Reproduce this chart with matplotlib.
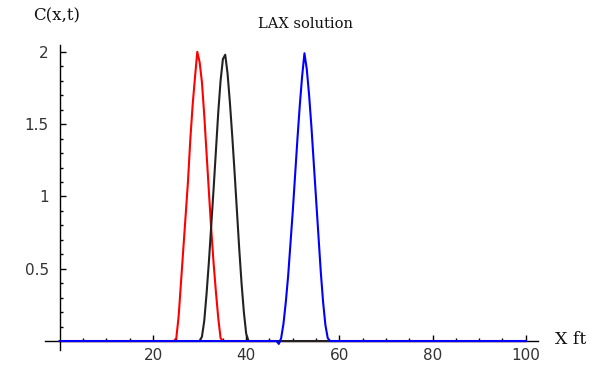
import numpy as np
import matplotlib
matplotlib.use("Agg")
import matplotlib.pyplot as plt
from matplotlib.ticker import FixedLocator

# grid spacing of the numerical solution (ft)
dx = 0.5
x_start, x_end = 0.0, 100.0

# pulse 1 (red)
red_x0 = 25.0
red_vals = [0.02, 0.17, 0.40, 0.62, 0.85, 1.10, 1.39, 1.63, 1.82, 2.00,
            1.93, 1.79, 1.56, 1.29, 1.03, 0.77, 0.54, 0.34, 0.16, 0.02]

# pulse 2 (black)
black_x0 = 30.5
black_vals = [0.03, 0.14, 0.33, 0.55, 0.80, 1.05, 1.32, 1.58, 1.80, 1.95,
              1.98, 1.85, 1.65, 1.42, 1.17, 0.90, 0.64, 0.40, 0.20, 0.05]

# pulse 3 (blue)
blue_x0 = 47.0
blue_vals = [-0.02, 0.02, 0.12, 0.27, 0.45, 0.67, 0.90, 1.15, 1.40, 1.63, 1.83,
             1.99, 1.88, 1.70, 1.48, 1.23, 0.98, 0.72, 0.48, 0.27, 0.11, 0.02]

x_major = [20, 40, 60, 80, 100]
x_labels = ["20", "40", "60", "80", "100"]
y_major = [0.5, 1.0, 1.5, 2.0]
y_labels = ["0.5", "1", "1.5", "2"]

x = np.arange(x_start, x_end + dx / 2, dx)

def build(x0, vals):
    c = np.zeros_like(x)
    i0 = int(round((x0 - x_start) / dx))
    c[i0:i0 + len(vals)] = vals
    return c

c_red = build(red_x0, red_vals)
c_black = build(black_x0, black_vals)
c_blue = build(blue_x0, blue_vals)

fig = plt.figure(figsize=(6.10, 3.77), dpi=100)
W, H = 610, 377
xl, xr = -3.2, 102.6
yb, yt = -0.06, 2.05
px_left, px_right = 44.9, 537.9
px_top, px_bottom = 44.6, 349.7
ax = fig.add_axes([px_left / W, 1 - px_bottom / H,
                   (px_right - px_left) / W, (px_bottom - px_top) / H])
ax.set_xlim(xl, xr)
ax.set_ylim(yb, yt)

lw = 1.5
ax.plot(x, c_red, color="#ff0000", lw=lw, zorder=3)
ax.plot(x, c_black, color="#222222", lw=lw, zorder=4)
ax.plot(x, c_blue, color="#0000ff", lw=lw, zorder=5)

for s in ["top", "right"]:
    ax.spines[s].set_visible(False)
ax.spines["left"].set_position(("data", 0))
ax.spines["bottom"].set_position(("data", 0))
ax.spines["left"].set_linewidth(1.0)
ax.spines["bottom"].set_linewidth(1.0)
ax.spines["left"].set_zorder(2)
ax.spines["bottom"].set_zorder(2)

ax.xaxis.set_major_locator(FixedLocator(x_major))
ax.set_xticklabels(x_labels)
ax.xaxis.set_minor_locator(FixedLocator([v for v in range(5, 101, 5) if v % 20]))
ax.yaxis.set_major_locator(FixedLocator(y_major))
ax.set_yticklabels(y_labels)
ax.yaxis.set_minor_locator(FixedLocator([round(0.1 * k, 1) for k in range(1, 21) if k % 5]))

ax.tick_params(axis="both", which="major", direction="in", length=4, width=1.0,
               color="black", labelsize=11, labelcolor="#333333")
ax.tick_params(axis="both", which="minor", direction="in", length=2.5, width=1.0,
               color="black")
ax.tick_params(axis="x", which="major", pad=5)
ax.tick_params(axis="y", which="major", pad=8)
for lab in ax.get_xticklabels() + ax.get_yticklabels():
    lab.set_family("DejaVu Sans")

fig.text(57 / W, 1 - 16 / H, "C(x,t)", ha="center", va="center",
         family="DejaVu Serif", fontsize=12, color="#111111")
fig.text(571 / W, 1 - 340 / H, "X ft", ha="center", va="center",
         family="DejaVu Serif", fontsize=12.5, color="#111111")
fig.text(306 / W, 1 - 24 / H, "LAX solution", ha="center", va="center",
         family="DejaVu Serif", fontsize=10.5, color="#111111")

fig.savefig("out.png", dpi=100)
